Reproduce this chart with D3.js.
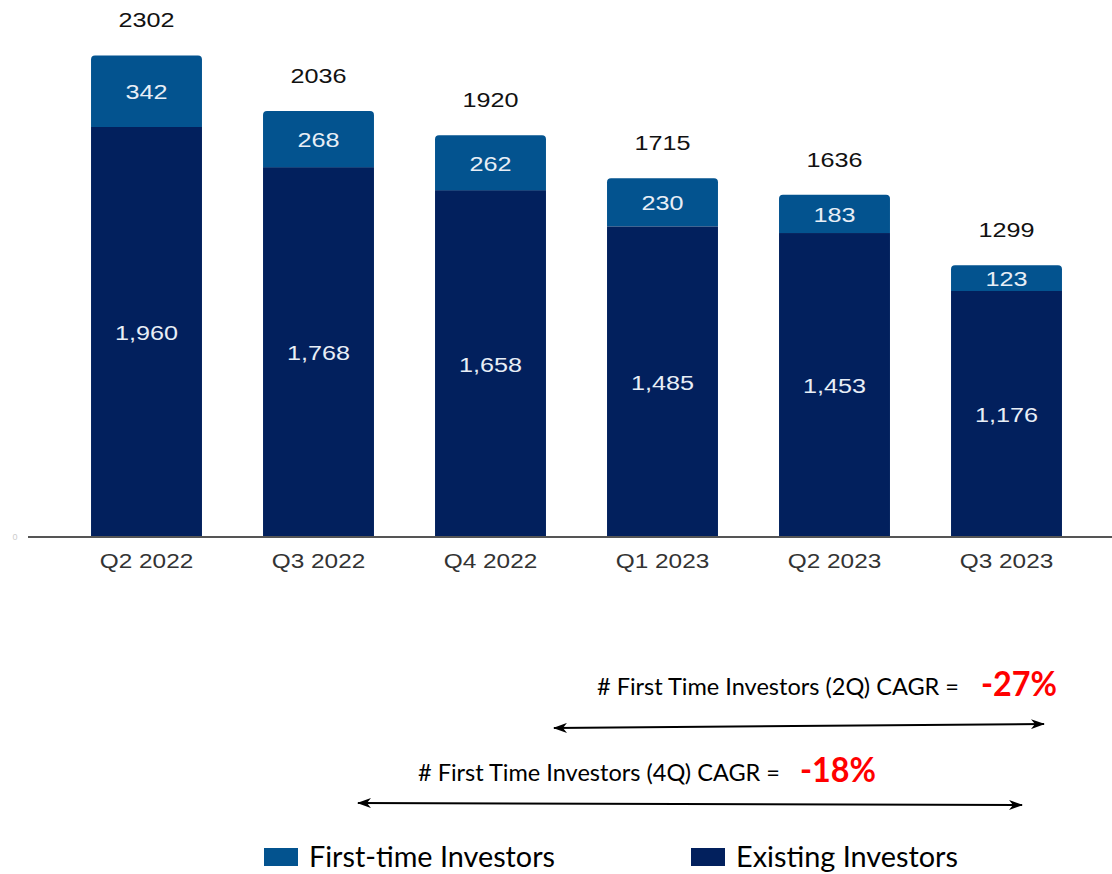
<!DOCTYPE html>
<html>
<head>
<meta charset="utf-8">
<script src="https://cdn.jsdelivr.net/npm/d3@7"></script>
<style>
  html, body { margin: 0; padding: 0; background: #fff; }
  svg { display: block; }
</style>
</head>
<body>
<svg id="chart" width="1112" height="874"></svg>
<script>
// Quarterly investor counts
const quarters = ["Q2 2022", "Q3 2022", "Q4 2022", "Q1 2023", "Q2 2023", "Q3 2023"];
const firstTime = [342, 268, 262, 230, 183, 123];
const existing = [1960, 1768, 1658, 1485, 1453, 1176];

// CAGR call-outs
const cagrLabels = ["# First Time Investors (2Q) CAGR =", "# First Time Investors (4Q) CAGR ="];
const cagrValues = ["-27%", "-18%"];

const legendNames = ["First-time Investors", "Existing Investors"];

const colFirst = "#03538f";
const colExisting = "#02205d";

const svg = d3.select("#chart");
const baseY = 537;

const x = d3.scaleBand()
  .domain(quarters)
  .range([60.5, 1092.5])
  .paddingInner(0.355)
  .paddingOuter(0.1775);

const y = d3.scaleLinear().domain([0, 2500]).range([baseY, 14]);

const rows = quarters.map((q, i) => ({
  q, first: firstTime[i], existing: existing[i], total: firstTime[i] + existing[i]
}));

const bw = x.bandwidth();
const sx = 1.2; // horizontal text stretch

// path with rounded top corners
function topRounded(x0, y0, w, h, r) {
  return `M${x0},${y0 + h} L${x0},${y0 + r} Q${x0},${y0} ${x0 + r},${y0} ` +
         `L${x0 + w - r},${y0} Q${x0 + w},${y0} ${x0 + w},${y0 + r} L${x0 + w},${y0 + h} Z`;
}

const g = svg.append("g");

// existing investors segment
g.selectAll("rect.existing").data(rows).join("rect")
  .attr("class", "existing")
  .attr("x", d => x(d.q))
  .attr("width", bw)
  .attr("y", d => y(d.existing))
  .attr("height", d => baseY - y(d.existing))
  .attr("fill", colExisting);

// first-time investors segment
g.selectAll("path.first").data(rows).join("path")
  .attr("class", "first")
  .attr("d", d => topRounded(x(d.q), y(d.total), bw, y(d.existing) - y(d.total), 4))
  .attr("fill", colFirst);

const fmt = d3.format(",");

function stretchedText(sel, fx, fy) {
  return sel.attr("transform", d => `translate(${fx(d)},${fy(d)}) scale(${sx},1)`)
    .attr("text-anchor", "middle");
}

// segment labels
stretchedText(g.selectAll("text.lblE").data(rows).join("text").attr("class", "lblE"),
  d => x(d.q) + bw / 2, d => (y(d.existing) + baseY) / 2 + 8)
  .attr("font-family", "Liberation Sans, Arial, sans-serif")
  .attr("font-size", 21)
  .attr("fill", "#e8eef6")
  .text(d => fmt(d.existing));

stretchedText(g.selectAll("text.lblF").data(rows).join("text").attr("class", "lblF"),
  d => x(d.q) + bw / 2, d => (y(d.total) + y(d.existing)) / 2 + 8)
  .attr("font-family", "Liberation Sans, Arial, sans-serif")
  .attr("font-size", 21)
  .attr("fill", "#e8eef6")
  .text(d => fmt(d.first));

// totals above bars, with a white halo
stretchedText(g.selectAll("text.tot").data(rows).join("text").attr("class", "tot"),
  d => x(d.q) + bw / 2, d => y(d.total) - 28)
  .attr("font-family", "Liberation Sans, Arial, sans-serif")
  .attr("font-size", 21)
  .attr("fill", "#111")
  .attr("stroke", "#fff")
  .attr("stroke-width", 4)
  .attr("stroke-linejoin", "round")
  .attr("paint-order", "stroke")
  .text(d => d.total);

// baseline
svg.append("line")
  .attr("x1", 28).attr("x2", 1112)
  .attr("y1", baseY).attr("y2", baseY)
  .attr("stroke", "#555").attr("stroke-width", 2);

svg.append("text")
  .attr("x", 15).attr("y", baseY + 3)
  .attr("text-anchor", "middle")
  .attr("font-family", "Liberation Sans, Arial, sans-serif")
  .attr("font-size", 9)
  .attr("fill", "#ccc")
  .text(y.ticks(1)[0]);

// category axis
const xAxis = svg.append("g")
  .attr("transform", `translate(0,${baseY})`)
  .call(d3.axisBottom(x).tickSize(0).tickPadding(0));
xAxis.select(".domain").remove();
xAxis.selectAll(".tick text")
  .attr("font-family", "Liberation Sans, Arial, sans-serif")
  .attr("font-size", 20)
  .attr("fill", "#333")
  .attr("dy", 0)
  .attr("y", 0)
  .attr("transform", `translate(0,31) scale(1.22,1)`);

// CAGR annotations
const defs = svg.append("defs");
defs.append("marker")
  .attr("id", "head")
  .attr("viewBox", "0 0 14 10")
  .attr("refX", 13).attr("refY", 5)
  .attr("markerWidth", 14).attr("markerHeight", 10)
  .attr("markerUnits", "userSpaceOnUse")
  .attr("orient", "auto-start-reverse")
  .append("path")
  .attr("d", "M0,0 L14,5 L0,10 L4,5 Z")
  .attr("fill", "#000");

const annot = [
  { label: cagrLabels[0], value: cagrValues[0], tx: 597, ty: 695, vx: 981,
    x1: x(quarters[2]) + bw + 8, y1: 728, x2: x(quarters[5]) + bw - 18, y2: 724 },
  { label: cagrLabels[1], value: cagrValues[1], tx: 418, ty: 781, vx: 800,
    x1: x(quarters[1]) + bw - 16, y1: 803, x2: x(quarters[5]) + 71, y2: 805 }
];

annot.forEach(a => {
  svg.append("text")
    .attr("x", a.tx).attr("y", a.ty)
    .attr("font-family", "Lato, 'Open Sans', sans-serif")
    .attr("font-size", 24)
    .attr("textLength", 362)
    .attr("lengthAdjust", "spacingAndGlyphs")
    .attr("fill", "#000")
    .text(a.label);
  svg.append("text")
    .attr("x", a.vx).attr("y", a.ty + 1)
    .attr("font-family", "Lato, 'Open Sans', sans-serif")
    .attr("font-weight", 700)
    .attr("font-size", 34)
    .attr("textLength", 76)
    .attr("lengthAdjust", "spacingAndGlyphs")
    .attr("fill", "#ff0000")
    .text(a.value);
  svg.append("line")
    .attr("x1", a.x1).attr("y1", a.y1)
    .attr("x2", a.x2).attr("y2", a.y2)
    .attr("stroke", "#000").attr("stroke-width", 2)
    .attr("marker-start", "url(#head)")
    .attr("marker-end", "url(#head)");
});

// legend
const legend = [
  { name: legendNames[0], color: colFirst, x: 264, w: 246 },
  { name: legendNames[1], color: colExisting, x: 691, w: 222 }
];
legend.forEach(l => {
  svg.append("rect")
    .attr("x", l.x).attr("y", 848)
    .attr("width", 34).attr("height", 18)
    .attr("fill", l.color);
  svg.append("text")
    .attr("x", l.x + 45).attr("y", 867)
    .attr("font-family", "Lato, 'Open Sans', sans-serif")
    .attr("font-size", 28)
    .attr("textLength", l.w)
    .attr("lengthAdjust", "spacingAndGlyphs")
    .attr("fill", "#000")
    .text(l.name);
});
</script>
</body>
</html>
